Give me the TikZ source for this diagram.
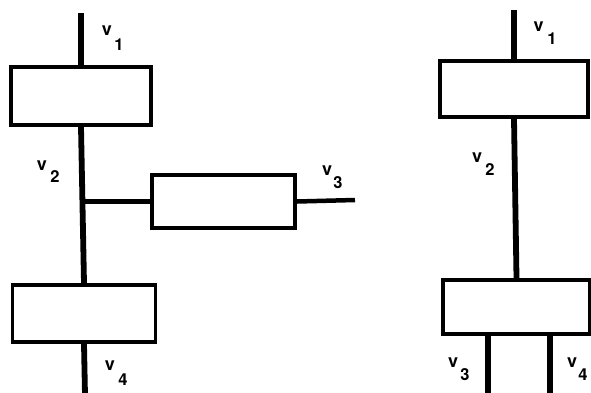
\documentclass[tikz,border=0pt]{standalone}
\usepackage{fontspec}
\setmainfont{TeX Gyre Heros}
\usetikzlibrary{calc}
\begin{document}
\begin{tikzpicture}[x=1pt,y=-1pt,
  blk/.style={draw, line width=3.8pt, rectangle, inner sep=0pt},
  wire/.style={line width=5.8pt},
  thinwire/.style={line width=4.5pt},
  lbl/.style={font=\fontsize{18}{18}\selectfont\bfseries, inner sep=0pt},
  sub/.style={font=\fontsize{16.5}{16.5}\selectfont\bfseries, inner sep=0pt}]
\useasboundingbox (0,0) rectangle (591,392);
% left figure
\node[blk, minimum width=140pt, minimum height=58pt] (Lb1) at (81,96) {};
\node[blk, minimum width=143pt, minimum height=53pt] (Lb3) at (223.5,201.5) {};
\node[blk, minimum width=143pt, minimum height=57pt] (Lb4) at (84,313.5) {};
\coordinate (Ltop) at (81,13);
\coordinate (Lv3end) at (355,200);
\coordinate (Lbot) at (85,395);
\draw[wire] (Ltop) -- (Lb1.north);
\draw[wire] (Lb1.south) -- (Lb4.north);
\coordinate (J) at ($(Lb1.south)!0.48!(Lb4.north)$);
\draw[thinwire] (J |- Lb3.west) -- (Lb3.west);
\draw[thinwire] (Lb3.east) -- (Lv3end);
\draw[wire] (Lb4.south) -- (Lbot);
\node[lbl] (Lv1) at (107,31) {v};
\node[sub] (Lv1s) at (119,45) {1};
\node[lbl] (Lv2) at (42,166) {v};
\node[sub] (Lv2s) at (55,177) {2};
\node[lbl] (Lv3) at (327,171) {v};
\node[sub] (Lv3s) at (338,183) {3};
\node[lbl] (Lv4) at (110,366) {v};
\node[sub] (Lv4s) at (123,380) {4};
% right figure
\node[blk, minimum width=148pt, minimum height=56pt] (Rb1) at (514,89) {};
\node[blk, minimum width=147pt, minimum height=54pt] (Rb2) at (516.5,307) {};
\coordinate (Rtop) at (514,10);
\coordinate (Rl3) at (488,395);
\coordinate (Rl4) at (550,395);
\draw[wire] (Rtop) -- (Rb1.north);
\draw[wire] (Rb1.south) -- (Rb2.north);
\draw[wire] (Rb2.south -| Rl3) -- (Rl3);
\draw[wire] (Rb2.south -| Rl4) -- (Rl4);
\node[lbl] (Rv1) at (538.5,27) {v};
\node[sub] (Rv1s) at (552,39) {1};
\node[lbl] (Rv2) at (477,158) {v};
\node[sub] (Rv2s) at (490,170) {2};
\node[lbl] (Rv3) at (453,363) {v};
\node[sub] (Rv3s) at (465,375) {3};
\node[lbl] (Rv4) at (572,363) {v};
\node[sub] (Rv4s) at (583,375) {4};
\end{tikzpicture}
\end{document}
